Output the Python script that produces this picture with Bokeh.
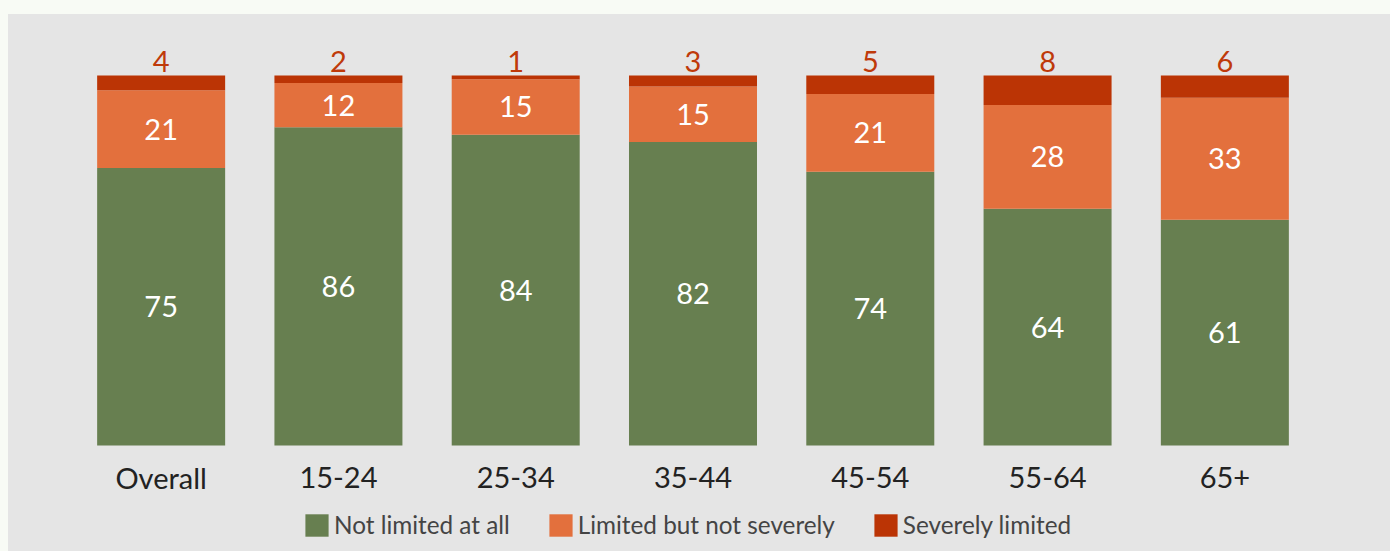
from bokeh.plotting import figure
from bokeh.models import ColumnDataSource, Range1d, FactorRange, Legend, LegendItem
from bokeh.layouts import column
from bokeh.embed import file_html
from bokeh.resources import INLINE
from bokeh.core.properties import value

# Share of respondents by how much they are limited, per age group (%)
groups = ["Overall", "15-24", "25-34", "35-44", "45-54", "55-64", "65+"]
not_limited = [75, 86, 84, 82, 74, 64, 61]
limited_not_severely = [21, 12, 15, 15, 21, 28, 33]
severely_limited = [4, 2, 1, 3, 5, 8, 6]

series = ["not_limited", "limited", "severe"]
series_names = ["Not limited at all", "Limited but not severely", "Severely limited"]
colors = ["#677f50", "#e3703d", "#bb3405"]

FONT = "Lato"
PANEL = "#e5e5e5"

source = ColumnDataSource(data=dict(
    group=groups,
    not_limited=not_limited,
    limited=limited_not_severely,
    severe=severely_limited,
))

# the frame reaches down to the bottom edge so category names and legend sit inside it
p = figure(
    x_range=FactorRange(*groups),
    y_range=Range1d(-28.65, 109.46),
    width=1382, height=537,
    output_backend="svg", toolbar_location=None,
    min_border_left=64, min_border_right=77,
    min_border_top=26, min_border_bottom=0,
)
p.margin = (14, 0, 0, 8)
p.styles = {"background-color": PANEL}
p.background_fill_color = None
p.border_fill_color = None
p.outline_line_color = None
p.grid.visible = False
p.xaxis.visible = False
p.yaxis.visible = False

renderers = p.vbar_stack(series, x="group", width=0.722, color=colors,
                         line_color=None, source=source)

# labels inside the two lower segments, above each bar and under each bar
mid_low = [v / 2 for v in not_limited]
mid_mid = [a + b / 2 for a, b in zip(not_limited, limited_not_severely)]
tops = [a + b + c for a, b, c in zip(not_limited, limited_not_severely, severely_limited)]

lab = ColumnDataSource(data=dict(
    group=groups,
    y_low=mid_low, t_low=[str(v) for v in not_limited],
    y_mid=mid_mid, t_mid=[str(v) for v in limited_not_severely],
    y_top=tops, t_top=[str(v) for v in severely_limited],
    y_cat=[-8.65] * len(groups),
))
common = dict(source=lab, text_font=value(FONT), text_font_size="29px",
              text_align="center", text_baseline="middle")
p.text(x="group", y="y_low", text="t_low", text_color="white", **common)
p.text(x="group", y="y_mid", text="t_mid", text_color="white", **common)
p.text(x="group", y="y_top", text="t_top", text_color="#bf3a0a", y_offset=-14, **common)
p.text(x="group", y="y_cat", text="group", text_color="#222222", **common)

# area legend glyphs are drawn at 80% of the glyph box
legend = Legend(
    items=[LegendItem(label=n, renderers=[r]) for n, r in zip(series_names, renderers)],
    orientation="horizontal",
    location=(230, 12),
    background_fill_alpha=0,
    border_line_color=None,
    label_text_font=FONT,
    label_text_font_size="24.3px",
    label_text_color="#444444",
    glyph_width=29, glyph_height=28,
    label_standoff=3, spacing=36,
    padding=0, margin=0,
)
p.add_layout(legend)

page = column(p, width=1390, height=551, styles={"background-color": "#f8fbf5"})

open("out.html", "w").write(file_html(page, INLINE))
